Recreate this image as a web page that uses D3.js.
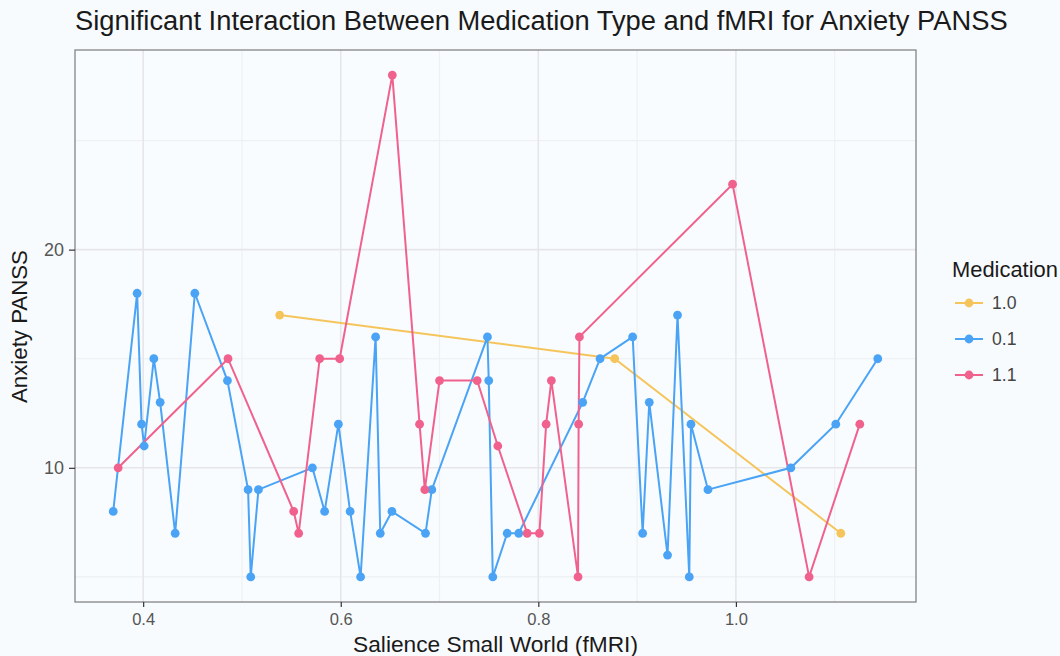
<!DOCTYPE html>
<html>
<head>
<meta charset="utf-8">
<script src="https://cdn.jsdelivr.net/npm/d3@7"></script>
<style>
  html, body { margin: 0; padding: 0; background: #f8fbfe; }
  svg { display: block; }
  text { font-family: "Liberation Sans", Arimo, Arial, Helvetica, sans-serif; }
</style>
</head>
<body>
<svg id="chart" width="1060" height="656"></svg>
<script>
// ---- data ----
const seriesNames = ["1.0", "0.1", "1.1"];
const seriesColors = ["#f5c55c", "#4aa3f5", "#f0628d"];

const medA_x = [0.5382, 0.8773, 1.1062];
const medA_y = [17, 15, 7];

const medB_x = [0.3697, 0.3939, 0.3984, 0.4010, 0.4108, 0.4172, 0.4324, 0.4523, 0.4853, 0.5062,
                0.5089, 0.5167, 0.5713, 0.5837, 0.5976, 0.6095, 0.6201, 0.6353, 0.6400, 0.6518,
                0.6858, 0.6922, 0.7485, 0.7498, 0.7539, 0.7685, 0.7802, 0.8449, 0.8625, 0.8955,
                0.9056, 0.9123, 0.9308, 0.9409, 0.9528, 0.9545, 0.9717, 1.0556, 1.1011, 1.1436];
const medB_y = [8, 18, 12, 11, 15, 13, 7, 18, 14, 9,
                5, 9, 10, 8, 12, 8, 5, 16, 7, 8,
                7, 9, 16, 14, 5, 7, 7, 13, 15, 16,
                7, 13, 6, 17, 5, 12, 9, 10, 12, 15];

const medC_x = [0.3747, 0.4859, 0.5524, 0.5574, 0.5787, 0.5989, 0.6522, 0.6798, 0.6851, 0.7000,
                0.7381, 0.7590, 0.7887, 0.8011, 0.8079, 0.8132, 0.8402, 0.8408, 0.8416, 0.9966,
                1.0741, 1.1254];
const medC_y = [10, 15, 8, 7, 15, 15, 28, 12, 9, 14,
                14, 11, 7, 7, 12, 14, 5, 12, 16, 23,
                5, 12];

const xTicks = [0.4, 0.6, 0.8, 1.0];
const yTicks = [10, 20];
const xMinor = [0.5, 0.7, 0.9, 1.1];
const yMinor = [5, 15, 25];

const titleText = "Significant Interaction Between Medication Type and fMRI for Anxiety PANSS";
const xLabel = "Salience Small World (fMRI)";
const yLabel = "Anxiety PANSS";
const legendTitle = "Medication";

// ---- build ----
const series = [
  {name: seriesNames[0], color: seriesColors[0], pts: medA_x.map((x, i) => ({x, y: medA_y[i]}))},
  {name: seriesNames[1], color: seriesColors[1], pts: medB_x.map((x, i) => ({x, y: medB_y[i]}))},
  {name: seriesNames[2], color: seriesColors[2], pts: medC_x.map((x, i) => ({x, y: medC_y[i]}))}
];

const panel = {left: 75, top: 50, right: 916, bottom: 602};
const svg = d3.select("#chart");

// size a text so that its rendered width matches the reference width
function fit(sel, target, base) {
  sel.style("font-size", base + "px");
  const w = sel.node().getComputedTextLength();
  if (w > 0) sel.style("font-size", (base * target / w).toFixed(2) + "px");
  return sel;
}

const allX = [].concat(medA_x, medB_x, medC_x);
const allY = [].concat(medA_y, medB_y, medC_y);
const xe = d3.extent(allX), ye = d3.extent(allY);
const xpad = (xe[1] - xe[0]) * 0.05, ypad = (ye[1] - ye[0]) * 0.05;

const x = d3.scaleLinear().domain([xe[0] - xpad, xe[1] + xpad]).range([panel.left, panel.right]);
const y = d3.scaleLinear().domain([ye[0] - ypad, ye[1] + ypad]).range([panel.bottom, panel.top]);

svg.append("rect")
  .attr("x", panel.left).attr("y", panel.top)
  .attr("width", panel.right - panel.left).attr("height", panel.bottom - panel.top)
  .attr("fill", "#f8fcff");

const grid = svg.append("g");
grid.selectAll(".xm").data(xMinor).join("line")
  .attr("x1", d => x(d)).attr("x2", d => x(d))
  .attr("y1", panel.top).attr("y2", panel.bottom)
  .attr("stroke", "#eef0f3").attr("stroke-width", 1.2);
grid.selectAll(".ym").data(yMinor).join("line")
  .attr("y1", d => y(d)).attr("y2", d => y(d))
  .attr("x1", panel.left).attr("x2", panel.right)
  .attr("stroke", "#eef0f3").attr("stroke-width", 1.2);
grid.selectAll(".xM").data(xTicks).join("line")
  .attr("x1", d => x(d)).attr("x2", d => x(d))
  .attr("y1", panel.top).attr("y2", panel.bottom)
  .attr("stroke", "#e6e6ea").attr("stroke-width", 1.6);
grid.selectAll(".yM").data(yTicks).join("line")
  .attr("y1", d => y(d)).attr("y2", d => y(d))
  .attr("x1", panel.left).attr("x2", panel.right)
  .attr("stroke", "#e6e6ea").attr("stroke-width", 1.6);

const line = d3.line().x(d => x(d.x)).y(d => y(d.y));
const gS = svg.append("g");
series.forEach(s => {
  gS.append("path").datum(s.pts)
    .attr("d", line).attr("fill", "none")
    .attr("stroke", s.color).attr("stroke-width", 2);
});
series.forEach(s => {
  gS.append("g").selectAll("circle").data(s.pts).join("circle")
    .attr("cx", d => x(d.x)).attr("cy", d => y(d.y)).attr("r", 4.4)
    .attr("fill", s.color);
});

svg.append("rect")
  .attr("x", panel.left).attr("y", panel.top)
  .attr("width", panel.right - panel.left).attr("height", panel.bottom - panel.top)
  .attr("fill", "none").attr("stroke", "#7a7a7a").attr("stroke-width", 1.2);

const xAxis = svg.append("g").attr("transform", `translate(0,${panel.bottom})`)
  .call(d3.axisBottom(x).tickValues(xTicks).tickFormat(d3.format(".1f")).tickSize(5).tickPadding(6));
const yAxis = svg.append("g").attr("transform", `translate(${panel.left},0)`)
  .call(d3.axisLeft(y).tickValues(yTicks).tickFormat(d3.format("d")).tickSize(6).tickPadding(5));
[xAxis, yAxis].forEach((a, k) => {
  a.attr("font-family", null).attr("font-size", null);
  a.select(".domain").remove();
  a.selectAll(".tick line").attr("stroke", "#333").attr("stroke-width", 1.2);
  a.selectAll(".tick text").attr("fill", "#555");
  a.selectAll(".tick text").each(function() { fit(d3.select(this), k === 0 ? 23 : 20, 15); });
});

fit(svg.append("text").attr("x", 75).attr("y", 30)
  .attr("fill", "#1a1a1a").text(titleText), 933, 24);

fit(svg.append("text").attr("x", 495.5).attr("y", 652)
  .attr("text-anchor", "middle").attr("fill", "#1a1a1a").text(xLabel), 285, 19);
fit(svg.append("text").attr("transform", `translate(27,326.5) rotate(-90)`)
  .attr("text-anchor", "middle").attr("fill", "#1a1a1a").text(yLabel), 153, 19);

const leg = svg.append("g");
fit(leg.append("text").attr("x", 952).attr("y", 277).attr("fill", "#1a1a1a").text(legendTitle), 106, 19);
const legY = [303, 339, 375];
series.forEach((s, i) => {
  const g = leg.append("g").attr("transform", `translate(0,${legY[i]})`);
  g.append("line").attr("x1", 955).attr("x2", 983).attr("y1", 0).attr("y2", 0)
    .attr("stroke", s.color).attr("stroke-width", 2);
  g.append("circle").attr("cx", 969).attr("cy", 0).attr("r", 4.4).attr("fill", s.color);
  fit(g.append("text").attr("x", 992).attr("y", 6).attr("fill", "#444").text(s.name), 24.5, 16);
});
</script>
</body>
</html>
